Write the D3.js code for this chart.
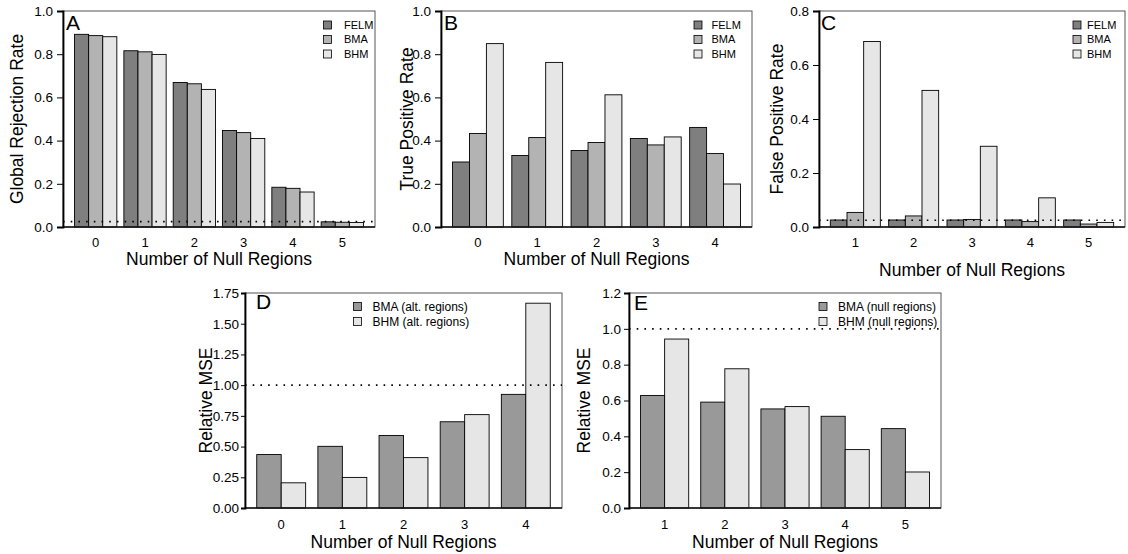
<!DOCTYPE html>
<html>
<head>
<meta charset="utf-8">
<script src="https://cdn.jsdelivr.net/npm/d3@7"></script>
<style>
  body { margin: 0; background: #fff; }
  svg text { font-family: "Liberation Sans", Arial, Helvetica, sans-serif; fill: #000; }
</style>
</head>
<body>
<div id="chart"></div>
<script>
// ---- data ----
var methods3 = ["FELM", "BMA", "BHM"];
var altSeries = ["BMA (alt. regions)", "BHM (alt. regions)"];
var nullSeries = ["BMA (null regions)", "BHM (null regions)"];

var nullA = ["0", "1", "2", "3", "4", "5"];
var globalFELM = [0.892, 0.816, 0.669, 0.447, 0.184, 0.024];
var globalBMA  = [0.886, 0.811, 0.663, 0.437, 0.179, 0.022];
var globalBHM  = [0.881, 0.799, 0.637, 0.410, 0.162, 0.021];

var nullB = ["0", "1", "2", "3", "4"];
var tprFELM = [0.301, 0.331, 0.354, 0.410, 0.461];
var tprBMA  = [0.433, 0.414, 0.391, 0.380, 0.340];
var tprBHM  = [0.849, 0.762, 0.612, 0.417, 0.199];

var nullC = ["1", "2", "3", "4", "5"];
var fprFELM = [0.026, 0.026, 0.026, 0.026, 0.026];
var fprBMA  = [0.054, 0.041, 0.028, 0.020, 0.011];
var fprBHM  = [0.687, 0.506, 0.299, 0.108, 0.017];

var nullD = ["0", "1", "2", "3", "4"];
var mseAltBMA = [0.435, 0.502, 0.590, 0.702, 0.925];
var mseAltBHM = [0.205, 0.249, 0.410, 0.760, 1.667];

var nullE = ["1", "2", "3", "4", "5"];
var mseNullBMA = [0.628, 0.591, 0.553, 0.512, 0.443];
var mseNullBHM = [0.943, 0.777, 0.566, 0.326, 0.201];

var ticksA = [0, 0.2, 0.4, 0.6, 0.8, 1.0];
var ticksC = [0, 0.2, 0.4, 0.6, 0.8];
var ticksD = [0, 0.25, 0.5, 0.75, 1.0, 1.25, 1.5, 1.75];
var ticksE = [0, 0.2, 0.4, 0.6, 0.8, 1.0, 1.2];

var fill3 = ["#7f7f7f", "#b3b3b3", "#e6e6e6"];
var fill2 = ["#999999", "#e6e6e6"];

var svg = d3.select("#chart").append("svg")
    .attr("width", 1128)
    .attr("height", 554);

function drawPanel(p) {
    var nS = p.series.length;
    var nG = p.groups.length;
    // R barplot: bar width 1, space 0.5 between groups, 4% extension each side
    var R = nG * (nS + 0.5) - 0.5;
    var step = nS + 0.5;
    var x = d3.scaleBand()
        .domain(p.groups)
        .range([p.x0, p.x1])
        .paddingInner(0.5 / step)
        .paddingOuter(0.04 * R / step);
    var xi = d3.scaleBand()
        .domain(d3.range(nS))
        .range([0, x.bandwidth()]);
    var y = d3.scaleLinear()
        .domain([0, p.ymax])
        .range([p.y1, p.y0]);

    var g = svg.append("g").attr("class", "panel");

    // bars
    var grp = g.selectAll(".grp")
        .data(p.groups)
        .enter().append("g")
        .attr("class", "grp")
        .attr("transform", function (d) { return "translate(" + x(d) + ",0)"; });

    grp.selectAll("rect")
        .data(function (d, gi) {
            return p.values.map(function (v, si) { return {s: si, v: v[gi]}; });
        })
        .enter().append("rect")
        .attr("x", function (d) { return xi(d.s); })
        .attr("width", xi.bandwidth())
        .attr("y", function (d) { return y(d.v); })
        .attr("height", function (d) { return y(0) - y(d.v); })
        .attr("fill", function (d) { return p.fills[d.s]; })
        .attr("stroke", "#000")
        .attr("stroke-width", 0.9);

    // box
    g.append("rect")
        .attr("x", p.x0).attr("y", p.y0)
        .attr("width", p.x1 - p.x0).attr("height", p.y1 - p.y0)
        .attr("fill", "none")
        .attr("stroke", "#555")
        .attr("stroke-width", 1);

    // reference line
    if (p.refLine !== undefined) {
        g.append("line")
            .attr("x1", p.x0).attr("x2", p.x1)
            .attr("y1", y(p.refLine)).attr("y2", y(p.refLine))
            .attr("stroke", "#000")
            .attr("stroke-width", 1.6)
            .attr("stroke-dasharray", "1.6,6.1");
    }

    // bottom line
    g.append("line")
        .attr("x1", p.x0).attr("x2", p.x1)
        .attr("y1", p.y1).attr("y2", p.y1)
        .attr("stroke", "#111").attr("stroke-width", 1.3);

    // y axis
    var yAxis = d3.axisLeft(y)
        .tickValues(p.ticks)
        .tickSize(p.tickLen)
        .tickPadding(p.tickPad)
        .tickFormat(d3.format(p.fmt));
    var ya = g.append("g")
        .attr("transform", "translate(" + p.x0 + ",0)")
        .call(yAxis);
    ya.select(".domain").attr("stroke", "#000").attr("stroke-width", 1.8);
    ya.selectAll(".tick line").attr("stroke", "#000");
    ya.selectAll(".tick text")
        .style("font-size", "13.5px")
        .style("font-family", "Liberation Sans, Arial, sans-serif")
        .attr("fill", "#111");

    // x category labels
    g.selectAll(".xlab")
        .data(p.groups)
        .enter().append("text")
        .attr("class", "xlab")
        .attr("x", function (d) { return x(d) + x.bandwidth() / 2; })
        .attr("y", p.xLabY)
        .attr("text-anchor", "middle")
        .style("font-size", "13px")
        .text(function (d) { return d; });

    // titles
    g.append("text")
        .attr("x", (p.x0 + p.x1) / 2)
        .attr("y", p.xTitleY)
        .attr("text-anchor", "middle")
        .style("font-size", "17.5px")
        .text("Number of Null Regions");

    g.append("text")
        .attr("transform", "translate(" + p.yTitleX + "," + ((p.y0 + p.y1) / 2) + ") rotate(-90)")
        .attr("text-anchor", "middle")
        .style("font-size", "17.5px")
        .text(p.yTitle);

    g.append("text")
        .attr("x", p.letterX)
        .attr("y", p.letterY)
        .style("font-size", "21px")
        .text(p.letter);

    // legend
    var lg = g.selectAll(".leg")
        .data(p.series)
        .enter().append("g")
        .attr("class", "leg")
        .attr("transform", function (d, i) {
            return "translate(" + p.legX + "," + (p.legY + i * p.legStep) + ")";
        });
    lg.append("rect")
        .attr("x", 0).attr("y", -4)
        .attr("width", 8).attr("height", 8)
        .attr("fill", function (d, i) { return p.fills[i]; })
        .attr("stroke", "#000")
        .attr("stroke-width", 0.8);
    lg.append("text")
        .attr("x", p.legTextDx)
        .attr("y", 0)
        .attr("dy", "0.36em")
        .style("font-size", p.legFont)
        .text(function (d) { return d; });
}

drawPanel({
    letter: "A", groups: nullA, series: methods3, fills: fill3,
    values: [globalFELM, globalBMA, globalBHM],
    x0: 63, x1: 375, y0: 11, y1: 227, ymax: 1.0, ticks: ticksA, fmt: ".1f",
    tickLen: 6, tickPad: 4, refLine: 0.025,
    xLabY: 247, xTitleY: 264.5, yTitleX: 23, yTitle: "Global Rejection Rate",
    letterX: 66, letterY: 30,
    legX: 323.5, legY: 25, legStep: 14.5, legTextDx: 20.5, legFont: "11px"
});

drawPanel({
    letter: "B", groups: nullB, series: methods3, fills: fill3,
    values: [tprFELM, tprBMA, tprBHM],
    x0: 441, x1: 752, y0: 11, y1: 227, ymax: 1.0, ticks: ticksA, fmt: ".1f",
    tickLen: 6, tickPad: 4,
    xLabY: 247, xTitleY: 264.5, yTitleX: 413, yTitle: "True Positive Rate",
    letterX: 444, letterY: 30,
    legX: 694, legY: 25, legStep: 14.5, legTextDx: 17.5, legFont: "11px"
});

drawPanel({
    letter: "C", groups: nullC, series: methods3, fills: fill3,
    values: [fprFELM, fprBMA, fprBHM],
    x0: 819, x1: 1125, y0: 11, y1: 227, ymax: 0.8, ticks: ticksC, fmt: ".1f",
    tickLen: 6, tickPad: 4, refLine: 0.025,
    xLabY: 247, xTitleY: 276, yTitleX: 783, yTitle: "False Positive Rate",
    letterX: 821, letterY: 30,
    legX: 1073, legY: 25, legStep: 14.5, legTextDx: 14, legFont: "11px"
});

drawPanel({
    letter: "D", groups: nullD, series: altSeries, fills: fill2,
    values: [mseAltBMA, mseAltBHM],
    x0: 245, x1: 562, y0: 293, y1: 508, ymax: 1.75, ticks: ticksD, fmt: ".2f",
    tickLen: 4, tickPad: 2, refLine: 1.0,
    xLabY: 529, xTitleY: 547.5, yTitleX: 212, yTitle: "Relative MSE",
    letterX: 256, letterY: 309,
    legX: 353.5, legY: 306.5, legStep: 15, legTextDx: 19, legFont: "12px"
});

drawPanel({
    letter: "E", groups: nullE, series: nullSeries, fills: fill2,
    values: [mseNullBMA, mseNullBHM],
    x0: 629, x1: 941, y0: 293, y1: 508, ymax: 1.2, ticks: ticksE, fmt: ".1f",
    tickLen: 5, tickPad: 3, refLine: 1.0,
    xLabY: 529, xTitleY: 547.5, yTitleX: 590, yTitle: "Relative MSE",
    letterX: 634, letterY: 310,
    legX: 819, legY: 306.5, legStep: 15, legTextDx: 19, legFont: "12px"
});
</script>
</body>
</html>
